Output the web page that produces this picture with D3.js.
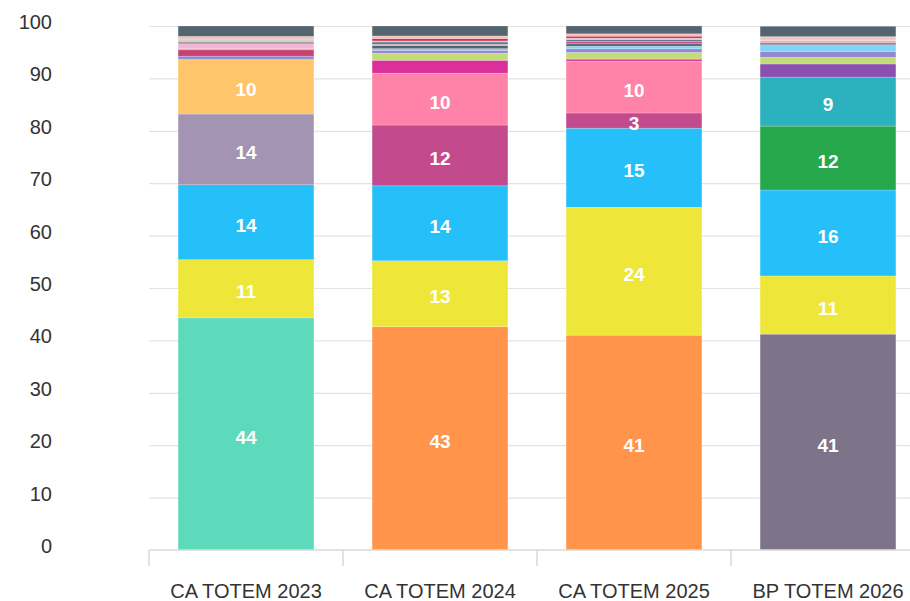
<!DOCTYPE html>
<html>
<head>
<meta charset="utf-8">
<script src="https://cdn.jsdelivr.net/npm/d3@7"></script>
<style>
  html, body { margin: 0; padding: 0; background: #fff; overflow: hidden; }
  svg { display: block; font-family: "Liberation Sans", Arial, sans-serif; }
</style>
</head>
<body>
<div id="chart"></div>
<script>
// categories on the x axis
const categories = ['CA TOTEM 2023', 'CA TOTEM 2024', 'CA TOTEM 2025', 'BP TOTEM 2026'];

// stacked shares (%), bottom to top, one array per bar
const values2023 = [44.3, 11.1, 14.3, 13.5, 10.4, 0.65, 1.2, 0.2, 1.0, 0.27, 0.6, 0.5, 1.98];
const values2024 = [42.6, 12.6, 14.3, 11.6, 9.9, 2.46, 1.34, 0.57, 0.3, 0.63, 0.2, 0.45, 0.2, 0.45, 0.5, 1.9];
const values2025 = [41.0, 24.4, 15.1, 2.9, 9.9, 0.38, 1.27, 0.7, 0.5, 0.45, 0.45, 0.38, 0.25, 0.38, 0.45, 1.5];
const values2026 = [41.2, 11.1, 16.4, 12.2, 9.35, 2.5, 1.27, 1.15, 1.1, 0.3, 0.3, 0.35, 0.75, 1.98];

const colors2023 = ['#5dd9bc', '#eee73a', '#25bffa', '#a294b2', '#ffc56b', '#9488d0', '#c8406e', '#3ad0f0', '#f4b4d4', '#4a5a68', '#d9cfc5', '#f0c0c0', '#546570'];
const colors2024 = ['#ff944a', '#eee73a', '#25bffa', '#c34a8c', '#ff82a9', '#dc2f9a', '#c3dc78', '#9488d0', '#80d4f8', '#546570', '#f08cb0', '#5a7d9a', '#f4b4c4', '#d6303f', '#f0c0c0', '#546570'];
const colors2025 = ['#ff944a', '#eee73a', '#25bffa', '#c34a8c', '#ff82a9', '#dc2f9a', '#c3dc78', '#9488d0', '#80d4f8', '#546570', '#c8508e', '#5a7d9a', '#f4b4c4', '#d6303f', '#f0c0c0', '#546570'];
const colors2026 = ['#7e748a', '#eee73a', '#25bffa', '#28a84c', '#2cb1be', '#8a50b0', '#c3dc78', '#9488d0', '#80d4f8', '#8a8a9a', '#c85088', '#d4b8a8', '#f4c8c8', '#546570'];

const yTicks = [0, 10, 20, 30, 40, 50, 60, 70, 80, 90, 100];

const allValues = [values2023, values2024, values2025, values2026];
const allColors = [colors2023, colors2024, colors2025, colors2026];

var svgwidth = 910;
var svgheight = 601;

var svg = d3.select('#chart')
    .append('svg')
    .attr('width', svgwidth)
    .attr('height', svgheight);

var plotLeft = 149;
var plotTop = 26;
var plotBottom = 550;
var step = 194;

var xscale = d3.scaleBand()
    .domain(categories)
    .range([plotLeft, plotLeft + step * categories.length])
    .paddingInner(0.3)
    .paddingOuter(0.15);

// same categories without padding, used for the axis ticks / labels
var xaxisScale = d3.scaleBand()
    .domain(categories)
    .range([plotLeft, plotLeft + step * categories.length]);

var yscale = d3.scaleLinear()
    .domain([0, 100])
    .range([plotBottom, plotTop]);

// gridlines + y labels
var yaxis = d3.axisLeft(yscale)
    .tickValues(yTicks)
    .tickSize(-(svgwidth - plotLeft))
    .tickPadding(97);

var gy = svg.append('g')
    .attr('transform', `translate(${plotLeft},0)`)
    .call(yaxis);
gy.select('.domain').remove();
gy.selectAll('.tick line')
    .attr('stroke', '#e3e3e3')
    .attr('stroke-width', 1.2);
gy.selectAll('.tick text')
    .attr('fill', '#333')
    .attr('dy', '0.12em')
    .style('font-size', '20px');
gy.selectAll('.tick').filter(d => d === 0).select('line').remove();

// stacked bars
const stacked = categories.map((cat, i) => {
    let cum = 0;
    return allValues[i].map((v, j) => {
        const seg = { category: cat, value: v, y0: cum, y1: cum + v, color: allColors[i][j] };
        cum += v;
        return seg;
    });
});

var bars = svg.append('g');

stacked.forEach(segs => {
    bars.selectAll(null)
        .data(segs)
        .enter()
        .append('rect')
        .attr('x', d => xscale(d.category))
        .attr('width', xscale.bandwidth())
        .attr('y', d => yscale(d.y1))
        .attr('height', d => yscale(d.y0) - yscale(d.y1))
        .attr('fill', d => d.color)
        .attr('stroke', 'rgba(255,255,255,0.35)')
        .attr('stroke-width', 0.6);

    bars.selectAll(null)
        .data(segs.filter(d => d.value >= 2.8))
        .enter()
        .append('text')
        .attr('x', d => xscale(d.category) + xscale.bandwidth() / 2)
        .attr('y', d => (yscale(d.y0) + yscale(d.y1)) / 2 + 3)
        .attr('dy', '0.35em')
        .attr('text-anchor', 'middle')
        .attr('fill', '#fff')
        .style('font-size', '19px')
        .style('font-weight', 'bold')
        .text(d => Math.round(d.value));
});

// x axis
var xaxis = d3.axisBottom(xaxisScale)
    .tickSize(0)
    .tickPadding(34);

var gx = svg.append('g')
    .attr('transform', `translate(0,${plotBottom})`)
    .call(xaxis);
gx.select('.domain')
    .attr('stroke', '#d8d8d8')
    .attr('stroke-width', 1.5)
    .attr('d', `M${plotLeft},0H${svgwidth}`);
gx.selectAll('.tick text')
    .attr('fill', '#333')
    .style('font-size', '20px');

// category boundary ticks
gx.selectAll('.boundary')
    .data(categories)
    .enter()
    .append('line')
    .attr('class', 'boundary')
    .attr('x1', d => xaxisScale(d))
    .attr('x2', d => xaxisScale(d))
    .attr('y1', 0)
    .attr('y2', 16)
    .attr('stroke', '#d8d8d8')
    .attr('stroke-width', 1.5);
</script>
</body>
</html>
